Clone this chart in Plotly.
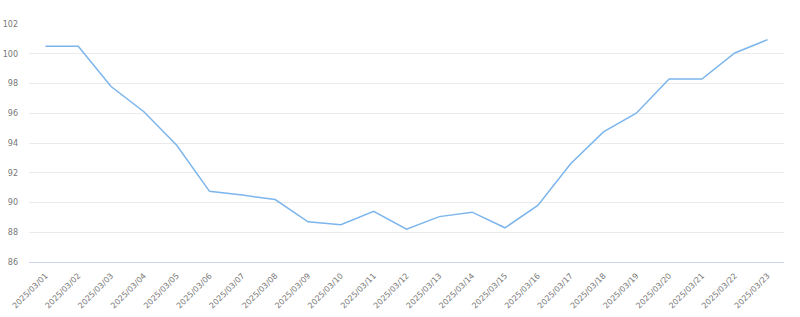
import plotly.graph_objects as go

dates = ["2025/03/%02d" % d for d in range(1, 24)]
values = [100.5, 100.5, 97.8, 96.1, 93.85, 90.75, 90.5, 90.2, 88.7, 88.5, 89.4, 88.2,
          89.05, 89.35, 88.3, 89.8, 92.6, 94.75, 96.0, 98.3, 98.3, 100.05, 100.95]
y_ticks = [86, 88, 90, 92, 94, 96, 98, 100, 102]

fig = go.Figure()
fig.add_trace(go.Scatter(x=dates, y=values, mode="lines",
                         line=dict(color="#7cb5ec", width=1.5), hoverinfo="x+y"))

fig.update_layout(
    width=800, height=317,
    margin=dict(l=29, r=16, t=24, b=55),
    paper_bgcolor="white", plot_bgcolor="white",
    showlegend=False,
    font=dict(family="DejaVu Sans, sans-serif", size=8, color="#777777"),
)
fig.update_xaxes(type="category", range=[-0.5, len(dates) - 0.5], showgrid=False,
                 showline=True, linecolor="#ccd6eb", linewidth=1, tickangle=-45,
                 ticks="", automargin=False, ticklabelstandoff=5,
                 tickfont=dict(size=8, color="#777777"))
fig.update_yaxes(range=[86, 102], tickvals=y_ticks, showgrid=True, gridcolor="#ebebeb",
                 zeroline=False, showline=False, ticks="", ticklabelstandoff=10,
                 automargin=False, tickfont=dict(size=8, color="#777777"))

fig.write_html("out.html")
